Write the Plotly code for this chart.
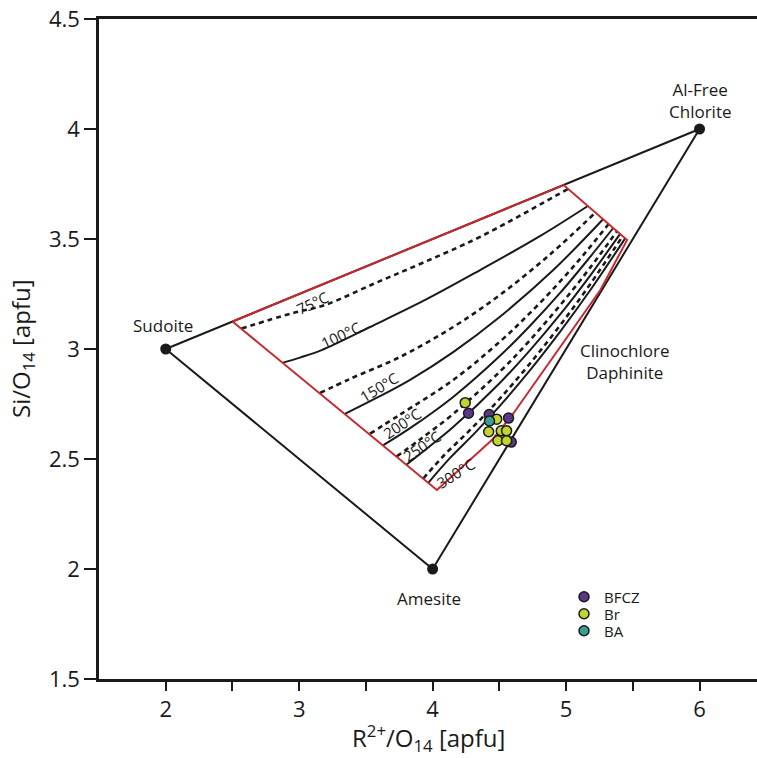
import plotly.graph_objects as go

# ---------------- data ----------------
vertex_x = [2.0, 6.0, 4.0]
vertex_y = [3.0, 4.0, 2.0]

# red boundary of the thermometer field
red_x = [2.5, 4.982, 5.457, 5.257, 4.606, 4.444, 4.032, 2.5]
red_y = [3.125, 3.745, 3.495, 3.268, 2.708, 2.586, 2.359, 3.125]

# isotherms (traced)
iso_75_x = [2.568, 2.943, 3.193, 3.568, 3.919, 4.356, 5.015]
iso_75_y = [3.093, 3.162, 3.200, 3.299, 3.390, 3.510, 3.728]
iso_100_x = [2.880, 3.006, 3.168, 3.531, 3.944, 4.356, 4.807, 5.163]
iso_100_y = [2.938, 2.961, 2.995, 3.100, 3.223, 3.359, 3.514, 3.650]
iso_125_x = [3.156, 3.381, 3.756, 4.154, 4.507, 4.882, 5.220]
iso_125_y = [2.800, 2.864, 2.964, 3.100, 3.247, 3.431, 3.620]
iso_150_x = [3.343, 3.568, 3.831, 4.154, 4.507, 4.904, 5.277]
iso_150_y = [2.705, 2.774, 2.860, 2.986, 3.148, 3.359, 3.590]
iso_175_x = [3.531, 3.756, 4.154, 4.507, 4.732, 4.957, 5.144, 5.319]
iso_175_y = [2.615, 2.702, 2.859, 3.035, 3.165, 3.308, 3.438, 3.568]
iso_200_x = [3.631, 3.831, 4.154, 4.507, 4.732, 4.957, 5.182, 5.353]
iso_200_y = [2.563, 2.640, 2.782, 2.970, 3.107, 3.256, 3.420, 3.550]
iso_225_x = [3.731, 3.906, 4.154, 4.507, 4.732, 4.957, 5.182, 5.382]
iso_225_y = [2.512, 2.589, 2.705, 2.899, 3.042, 3.200, 3.371, 3.536]
iso_250_x = [3.806, 3.981, 4.154, 4.507, 4.732, 4.957, 5.182, 5.405]
iso_250_y = [2.475, 2.559, 2.645, 2.848, 2.996, 3.158, 3.335, 3.523]
iso_275_x = [3.931, 4.094, 4.281, 4.507, 4.732, 4.957, 5.182, 5.424]
iso_275_y = [2.412, 2.522, 2.632, 2.777, 2.936, 3.109, 3.296, 3.513]
iso_300_x = [3.969, 4.131, 4.319, 4.507, 4.732, 4.957, 5.182, 5.443]
iso_300_y = [2.393, 2.505, 2.620, 2.744, 2.905, 3.080, 3.268, 3.503]

# isotherm labels
iso_label_text = ["75°C", "100°C", "150°C", "200°C", "250°C", "300°C"]
iso_label_x = [3.098, 3.311, 3.598, 3.773, 3.919, 4.174]
iso_label_y = [3.208, 3.064, 2.829, 2.665, 2.559, 2.435]
iso_label_angle = [-25, -25, -31, -34, -34, -32]

# end-member labels
member_text = ["Sudoite", "Al-Free<br>Chlorite", "Clinochlore<br>Daphinite", "Amesite"]
member_x = [1.977, 6.008, 5.445, 3.97]
member_y = [3.109, 4.130, 2.943, 1.868]

# samples
bfcz_x = [4.269, 4.424, 4.569, 4.589]
bfcz_y = [2.708, 2.702, 2.686, 2.577]
br_x = [4.244, 4.480, 4.420, 4.514, 4.554, 4.489, 4.554]
br_y = [2.756, 2.681, 2.624, 2.628, 2.628, 2.583, 2.583]
ba_x = [4.426]
ba_y = [2.673]

# axis ticks
x_tickvals = [2, 2.5, 3, 3.5, 4, 4.5, 5, 5.5, 6]
x_ticktext = ["2", " ", "3", " ", "4", " ", "5", " ", "6"]
y_tickvals = [1.5, 2, 2.5, 3, 3.5, 4, 4.5]
y_ticktext = ["1.5", "2", "2.5", "3", "3.5", "4", "4.5"]

FONT = "Open Sans"
INK = "#1a1a1a"
RED = "#c62a2f"

fig = go.Figure()

# triangle
fig.add_trace(go.Scatter(
    x=vertex_x + [vertex_x[0]], y=vertex_y + [vertex_y[0]],
    mode="lines", line=dict(color=INK, width=2),
    showlegend=False, hoverinfo="skip"))

# isotherms
isos = [
    (iso_75_x, iso_75_y, True), (iso_100_x, iso_100_y, False),
    (iso_125_x, iso_125_y, True), (iso_150_x, iso_150_y, False),
    (iso_175_x, iso_175_y, True), (iso_200_x, iso_200_y, False),
    (iso_225_x, iso_225_y, True), (iso_250_x, iso_250_y, False),
    (iso_275_x, iso_275_y, True), (iso_300_x, iso_300_y, False),
]
for xs, ys, dashed in isos:
    fig.add_trace(go.Scatter(
        x=xs, y=ys, mode="lines",
        line=dict(color=INK, width=2.6 if dashed else 2,
                  dash="5px,4px" if dashed else "solid",
                  shape="spline", smoothing=1.0),
        showlegend=False, hoverinfo="skip"))

# red field boundary
fig.add_trace(go.Scatter(
    x=red_x, y=red_y, mode="lines", line=dict(color=RED, width=2),
    showlegend=False, hoverinfo="skip"))

# vertices
fig.add_trace(go.Scatter(
    x=vertex_x, y=vertex_y, mode="markers",
    marker=dict(color=INK, size=11),
    showlegend=False, hoverinfo="skip"))

# samples (each with its own legend box so rows can sit tight)
for name, xs, ys, col, lg in [("BFCZ", bfcz_x, bfcz_y, "#5b3788", "legend"),
                              ("Br", br_x, br_y, "#c3d42e", "legend2"),
                              ("BA", ba_x, ba_y, "#3c9d92", "legend3")]:
    fig.add_trace(go.Scatter(
        x=xs, y=ys, mode="markers", name=name, legend=lg,
        marker=dict(color=col, size=10, line=dict(color=INK, width=1.5))))

annotations = []
for t, x, y, a in zip(iso_label_text, iso_label_x, iso_label_y, iso_label_angle):
    annotations.append(dict(x=x, y=y, text=t, showarrow=False, textangle=a,
                            font=dict(family=FONT, size=15, color=INK)))

for t, x, y in zip(member_text, member_x, member_y):
    annotations.append(dict(x=x, y=y, text=t, showarrow=False,
                            font=dict(family=FONT, size=17, color=INK)))

annotations.append(dict(xref="paper", yref="paper", x=0.5, y=-0.089,
                        text="R<sup>2+</sup>/O<sub>14</sub> [apfu]", showarrow=False,
                        font=dict(family=FONT, size=24, color=INK),
                        xanchor="center", yanchor="middle"))
annotations.append(dict(xref="paper", yref="paper", x=-0.117, y=0.5,
                        text="Si/O<sub>14</sub> [apfu]", showarrow=False, textangle=-90,
                        font=dict(family=FONT, size=24, color=INK),
                        xanchor="center", yanchor="middle"))

legend_common = dict(x=0.7067, xanchor="left", yanchor="middle",
                     bgcolor="rgba(0,0,0,0)", borderwidth=0,
                     font=dict(family=FONT, size=15, color=INK),
                     itemwidth=30)

fig.update_layout(
    width=757, height=758,
    margin=dict(l=99, r=0, t=19, b=79),
    plot_bgcolor="white", paper_bgcolor="white",
    font=dict(family=FONT, color=INK),
    annotations=annotations,
    legend=dict(y=0.1242, **legend_common),
    legend2=dict(y=0.0985, **legend_common),
    legend3=dict(y=0.0727, **legend_common),
    xaxis=dict(range=[1.5, 6.4306], tickvals=x_tickvals, ticktext=x_ticktext,
               ticks="outside", ticklen=9, tickwidth=2, tickcolor=INK,
               showline=True, linewidth=2.5, linecolor=INK, mirror=True,
               showgrid=False, zeroline=False,
               tickfont=dict(family=FONT, size=22, color=INK)),
    yaxis=dict(range=[1.5, 4.5], tickvals=y_tickvals, ticktext=y_ticktext,
               ticks="outside", ticklen=12, tickwidth=2, tickcolor=INK,
               showline=True, linewidth=2.5, linecolor=INK, mirror=False,
               showgrid=False, zeroline=False,
               tickfont=dict(family=FONT, size=22, color=INK)),
)

fig.write_html("out.html",
               config={"displayModeBar": False},
               post_script="document.body.style.margin='0';document.body.style.overflow='hidden';")
